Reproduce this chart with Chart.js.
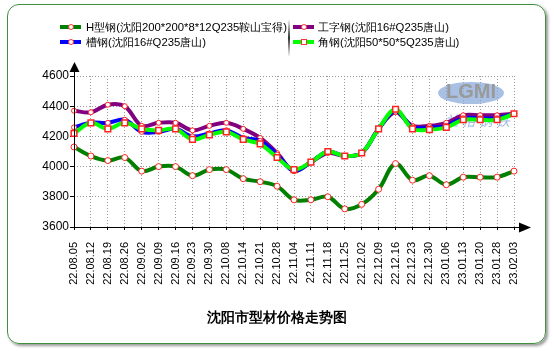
<!DOCTYPE html>
<html>
<head>
<meta charset="utf-8">
<script src="https://cdn.jsdelivr.net/npm/chart.js"></script>
<style>
  body { margin: 0; background: #fff; font-family: "Liberation Sans", Arial, sans-serif; }
  #wrap { position: relative; width: 554px; height: 351px; overflow: hidden; }
  #frame {
    position: absolute; left: 7px; top: 4px; width: 537px; height: 338px;
    border: 1px solid #3f8f3f; border-radius: 12px; box-shadow: 2px 2px 3px #9a9a9a;
  }
  canvas { position: absolute; left: 0; top: 0; }
  .leg { position: absolute; font-size: 11.3px; color: #000; white-space: nowrap; line-height: 14px; }
  .sw { position: absolute; width: 21px; height: 4px; }
  .mk { position: absolute; left: 8px; top: -1px; width: 4px; height: 4px; background: #fff; border: 1px solid #f33; }
  #sep { position: absolute; left: 288px; top: 19px; width: 2px; height: 38px; background: linear-gradient(#fff, #333, #fff); }
  #title { position: absolute; left: 0; width: 554px; top: 309px; text-align: center; font-weight: bold; font-size: 13.5px; color: #000; }
</style>
</head>
<body>
<div id="wrap">
  <div id="frame"></div>
  <canvas id="c" width="554" height="351"></canvas>
  <div class="sw" style="left:60px;top:25px;background:#008000"><div class="mk" style="border-radius:50%"></div></div>
  <div class="leg" style="left:86px;top:20px">H型钢(沈阳200*200*8*12Q235鞍山宝得)</div>
  <div class="sw" style="left:60px;top:40px;background:#0000ff"><div class="mk" style="border-radius:50%"></div></div>
  <div class="leg" style="left:86px;top:35px">槽钢(沈阳16#Q235唐山)</div>
  <div id="sep"></div>
  <div class="sw" style="left:293px;top:25px;background:#800080"><div class="mk" style="border-radius:50%"></div></div>
  <div class="leg" style="left:318px;top:20px">工字钢(沈阳16#Q235唐山)</div>
  <div class="sw" style="left:293px;top:40px;background:#00ff00"><div class="mk"></div></div>
  <div class="leg" style="left:318px;top:35px">角钢(沈阳50*50*5Q235唐山)</div>
  <div id="title">沈阳市型材价格走势图</div>
</div>
<script>
const dates = ['22.08.05', '22.08.12', '22.08.19', '22.08.26', '22.09.02', '22.09.09', '22.09.16',
  '22.09.23', '22.09.30', '22.10.08', '22.10.14', '22.10.21', '22.10.28', '22.11.04', '22.11.11',
  '22.11.18', '22.11.25', '22.12.02', '22.12.09', '22.12.16', '22.12.23', '22.12.30', '23.01.06',
  '23.01.13', '23.01.20', '23.01.28', '23.02.03'];

const hBeam = [4130, 4070, 4040, 4060, 3970, 4000, 4000, 3940, 3980, 3980, 3920, 3900, 3870, 3780,
  3780, 3800, 3720, 3750, 3850, 4020, 3910, 3940, 3880, 3930, 3930, 3930, 3970];
const iBeam = [4370, 4360, 4410, 4400, 4270, 4290, 4290, 4240, 4270, 4290, 4250, 4190, 4090, 3970,
  4030, 4090, 4070, 4090, 4250, 4360, 4270, 4270, 4290, 4340, 4340, 4340, 4350];
const channel = [4260, 4290, 4290, 4310, 4230, 4230, 4250, 4200, 4220, 4240, 4190, 4170, 4080, 3970,
  4030, 4100, 4070, 4090, 4250, 4370, 4260, 4260, 4270, 4320, 4320, 4320, 4350];
const angle = [4220, 4290, 4250, 4290, 4250, 4240, 4250, 4180, 4210, 4230, 4180, 4150, 4060, 3980,
  4030, 4100, 4070, 4090, 4250, 4380, 4250, 4245, 4260, 4310, 4310, 4310, 4350];

const yMin = 3600, yMax = 4600, yStep = 200;

// watermark + axes with arrows
const decor = {
  id: 'decor',
  beforeDatasetsDraw(chart) {
    const ctx = chart.ctx;
    ctx.save();
    ctx.fillStyle = 'rgba(130,165,215,0.7)';
    ctx.beginPath();
    ctx.ellipse(471, 93, 33, 11, 0, 0, Math.PI * 2);
    ctx.fill();
    ctx.fillStyle = '#9a9a9a';
    ctx.font = 'bold 20px "Liberation Sans", Arial';
    ctx.textAlign = 'center';
    ctx.textBaseline = 'middle';
    ctx.fillText('LGMI', 471, 92);
    ctx.fillStyle = 'rgba(140,170,215,0.8)';
    ctx.font = 'italic 14px "Noto Sans CJK SC"';
    ctx.fillText('兰 格 钢 铁', 477, 121);
    ctx.restore();
  },
  afterDraw(chart) {
    const ctx = chart.ctx;
    const x0 = chart.scales.x.left, y0 = chart.scales.y.bottom;
    ctx.save();
    ctx.strokeStyle = '#000';
    ctx.fillStyle = '#000';
    ctx.lineWidth = 1;
    ctx.beginPath();
    ctx.moveTo(x0 + 0.5, y0);
    ctx.lineTo(x0 + 0.5, 70);
    ctx.moveTo(x0, y0 + 0.5);
    ctx.lineTo(522, y0 + 0.5);
    ctx.stroke();
    ctx.beginPath();
    ctx.moveTo(x0 + 0.5, 62); ctx.lineTo(x0 - 4.5, 72); ctx.lineTo(x0 + 5.5, 72); ctx.closePath();
    ctx.fill();
    ctx.beginPath();
    ctx.moveTo(531, y0 + 0.5); ctx.lineTo(519, y0 - 4.5); ctx.lineTo(519, y0 + 5.5); ctx.closePath();
    ctx.fill();
    ctx.restore();
  }
};

const series = (data, color, style, radius, order) => ({
  data, borderColor: color, backgroundColor: color, borderWidth: 4,
  tension: 0.35, pointStyle: style, pointRadius: radius,
  pointBackgroundColor: '#fff', pointBorderColor: '#f22', pointBorderWidth: 1,
  order, clip: 8
});

new Chart(document.getElementById('c'), {
  type: 'line',
  data: {
    labels: dates,
    datasets: [
      series(hBeam, '#008000', 'circle', 3, 3),
      series(iBeam, '#800080', 'circle', 2.5, 2),
      series(channel, '#0000ff', 'circle', 2.5, 1),
      Object.assign(series(angle, '#00ff00', 'rect', 4, 0), { pointBorderWidth: 1.5 })
    ]
  },
  plugins: [decor],
  options: {
    responsive: false,
    animation: false,
    layout: { padding: { top: 76, right: 40, left: 0, bottom: 0 } },
    plugins: { legend: { display: false }, tooltip: { enabled: false } },
    scales: {
      x: {
        offset: false,
        afterFit(s) { s.height = 124; },
        border: { display: false, dash: [1, 2] },
        grid: { color: '#999', tickColor: '#000', tickLength: 3, tickBorderDash: [] },
        ticks: {
          color: '#000', minRotation: 90, maxRotation: 90, autoSkip: false, padding: 12,
          font: { family: '"Liberation Sans", Arial', size: 11 }
        }
      },
      y: {
        min: yMin, max: yMax,
        afterFit(s) { s.width = 74; },
        border: { display: false, dash: [1, 2] },
        grid: { color: '#999', tickColor: '#000', tickLength: 4, tickBorderDash: [] },
        ticks: {
          stepSize: yStep, color: '#000', padding: 1,
          font: { family: '"Liberation Sans", Arial', size: 12 },
          callback: v => String(v)
        }
      }
    }
  }
});
</script>
</body>
</html>
